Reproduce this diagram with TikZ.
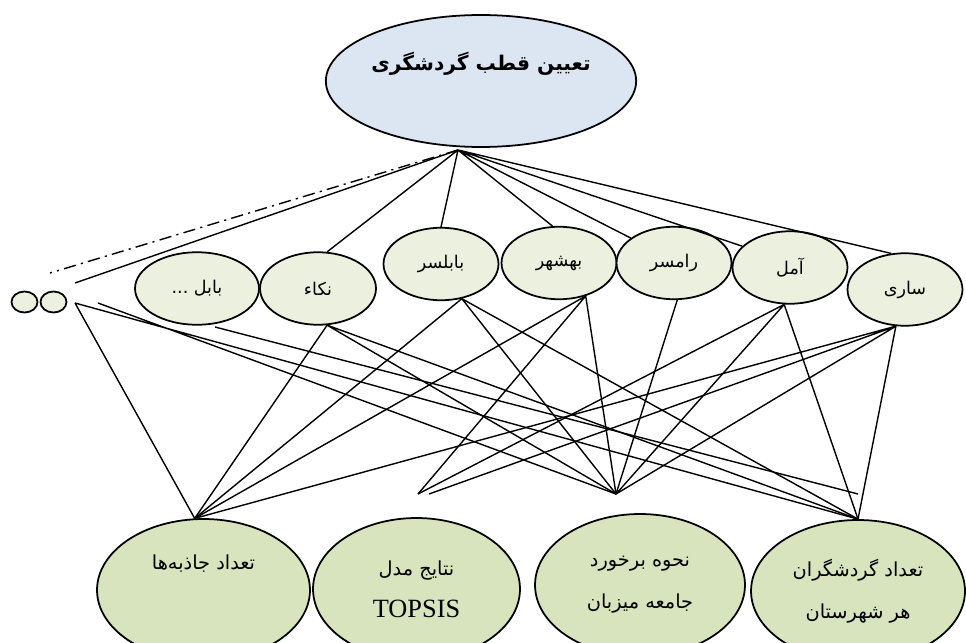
\documentclass[tikz,border=0pt]{standalone}
\usepackage{fontspec}
\usetikzlibrary{shapes.geometric}
\newfontfamily\farsi[Script=Arabic]{DejaVu Sans}
\newfontfamily\latinserif{Liberation Serif}
\TeXXeTstate=1
\newcommand{\fatext}[1]{{\farsi\beginR #1\endR}}
\definecolor{goalblue}{HTML}{DCE6F2}
\definecolor{citygreen}{HTML}{EBF1DE}
\definecolor{critgreen}{HTML}{D7E4BD}
\tikzset{
  goal/.style={ellipse, draw, line width=1pt, fill=goalblue, minimum width=6.12cm, minimum height=2.64cm, inner sep=0pt, align=center, font=\bfseries\fontsize{11.5}{17}\selectfont},
  city/.style={ellipse, draw, line width=1pt, fill=citygreen, minimum width=2.3cm, minimum height=1.45cm, inner sep=0pt, font=\fontsize{10}{13}\selectfont},
  tiny/.style={city, minimum width=0.52cm, minimum height=0.42cm},
  crit/.style={ellipse, draw, line width=1pt, fill=critgreen, minimum width=4.26cm, minimum height=2.84cm, inner sep=0pt, align=center, font=\fontsize{11}{24}\selectfont},
  link/.style={line width=0.8pt}
}
\begin{document}
\begin{tikzpicture}[x=0.02cm, y=-0.02cm]
		\useasboundingbox (0,0) rectangle (966,642);
		\node[goal] (goal) at (481,81) {\fatext{تعیین قطب گردشگری}\\ \strut};
		\node[tiny] (dot1) at (24.5,302) {};
		\node[tiny] (dot2) at (53.5,302) {};
		\node[city, minimum width=2.48cm] (babol) at (197,288.5) {\fatext{بابل ...}};
		\node[city, minimum width=2.32cm] (neka) at (318,288.5) {\fatext{نکاء}};
		\node[city] (babolsar) at (441,264) {\fatext{بابلسر}};
		\node[city] (behshahr) at (559,263) {\fatext{بهشهر}};
		\node[city] (ramsar) at (674,263) {\fatext{رامسر}};
		\node[city] (amol) at (790,267.5) {\fatext{آمل}};
		\node[city] (sari) at (905,289.5) {\fatext{ساری}};
		\node[crit] (attr) at (203.5,590) {\fatext{تعداد جاذبه‌ها}\\ \strut};
		\node[crit, minimum width=4.14cm] (topsis) at (416.5,589) {\fatext{نتایج مدل}\\{\latinserif\fontsize{15}{24}\selectfont TOPSIS}};
		\node[crit, minimum width=4.2cm] (host) at (640,585) {\fatext{نحوه برخورد}\\\fatext{جامعه میزبان}};
		\node[crit, minimum width=4.28cm] (tour) at (858,591) {\fatext{تعداد گردشگران}\\\fatext{هر شهرستان}};
		\coordinate (apex) at (458,150);
		\coordinate (dashend) at (50,273);
		\coordinate (lineend) at (75,283);
		\coordinate (s1) at (75,303);
		\coordinate (s2) at (98,303);
		\coordinate (s3) at (215,327);
		\coordinate (p2a) at (418,494);
		\coordinate (p2b) at (429,494);
		\coordinate (p3) at (616,494);
		\coordinate (loose) at (858,494);
		\draw [link, dash pattern=on 7pt off 3pt on 1.2pt off 3pt] (apex) -- (dashend);
		\draw [link] (apex) -- (lineend) (apex) -- (neka.76) (apex) -- (babolsar.north) (apex) -- (behshahr.100) (apex) -- (ramsar.150) (apex) -- (amol.156) (apex) -- (sari.111);
		\draw [link] (s1) -- (attr.97) (s1) -- (tour.north) (s2) -- (p3) (s3) -- (loose);
		\draw [link] (neka.-76) -- (attr.97) (neka.-76) -- (p3) (neka.-76) -- (tour.north);
		\draw [link] (babolsar.-59) -- (attr.97) (babolsar.-59) -- (p3) (babolsar.-59) -- (tour.north);
		\draw [link] (behshahr.-51) -- (attr.97) (behshahr.-51) -- (p2a) (behshahr.-51) -- (p3);
		\draw [link] (ramsar.-85) -- (p3);
		\draw [link] (amol.-99) -- (p2a) (amol.-99) -- (p3) (amol.-99) -- (tour.north);
		\draw [link] (sari.-104) -- (attr.97) (sari.-104) -- (p2b) (sari.-104) -- (p3) (sari.-104) -- (tour.north);
		\end{tikzpicture}
\end{document}
